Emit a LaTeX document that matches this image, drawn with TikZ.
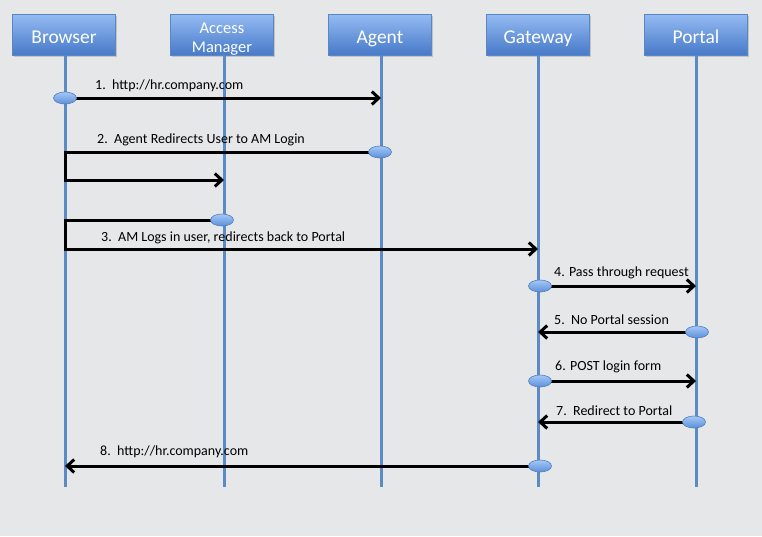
\documentclass[tikz,border=0pt]{standalone}
\usepackage{fontspec}
\setmainfont{Carlito}
\usetikzlibrary{arrows.meta,shadows,shapes.geometric}
\definecolor{bg}{HTML}{E6E7E9}
\definecolor{headtop}{HTML}{94BAF2}
\definecolor{headbot}{HTML}{4679C8}
\definecolor{headborder}{HTML}{5A86C4}
\definecolor{lifeline}{HTML}{5B8BC6}
\definecolor{dottop}{HTML}{A6C8F6}
\definecolor{dotbot}{HTML}{5B8FD8}
\definecolor{dotborder}{HTML}{4F7EC0}
\tikzset{
  headbase/.style={draw=headborder, line width=0.8pt, top color=headtop, bottom color=headbot,
    minimum width=103pt, minimum height=41pt, inner sep=0pt, text=white, align=center,
    font=\fontsize{19.5}{21}\selectfont,
    drop shadow={shadow xshift=1.2pt, shadow yshift=-1.5pt, opacity=0.35}},
  head/.style={headbase, text height=17pt, text depth=0pt},
  lline/.style={draw=lifeline, line width=3pt},
  dot/.style={ellipse, draw=dotborder, line width=0.6pt, top color=dottop, bottom color=dotbot,
    minimum width=23pt, minimum height=12pt, inner sep=0pt},
  msg/.style={draw=black, line width=3pt, line join=miter,
    -{Straight Barb[length=7pt,width=13pt,line width=3pt]}},
  lbl/.style={anchor=base west, inner sep=0pt, font=\fontsize{14}{16}\selectfont}
}
\begin{document}
\begin{tikzpicture}[x=1pt,y=-1pt]
\fill[bg] (0,0) rectangle (762,536);
\useasboundingbox (0,0) rectangle (762,536);

% heads
\node[head] (browser) at (64,35) {Browser};
\node[headbase, font=\fontsize{16.5}{19}\selectfont] (am) at (222,35) {\rule{0pt}{18.5pt}Access\\Manager};
\node[head] (agent) at (380,35) {Agent};
\node[head] (gateway) at (538,35) {Gateway};
\node[head] (portal) at (696,35) {Portal};

% lifeline ends
\coordinate (bEnd) at (65,487);
\coordinate (aEnd) at (224,487);
\coordinate (gEnd) at (381,487);
\coordinate (wEnd) at (538,487);
\coordinate (pEnd) at (696,487);

% bend coordinates
\coordinate (r2) at (65,180);
\coordinate (r3) at (65,249);

% lifelines
\draw[lline] (browser.south -| bEnd) -- (bEnd);
\draw[lline] (am.south -| aEnd) -- (aEnd);
\draw[lline] (agent.south -| gEnd) -- (gEnd);
\draw[lline] (gateway.south -| wEnd) -- (wEnd);
\draw[lline] (portal.south -| pEnd) -- (pEnd);

% labels
\node[lbl] (l1) at (95,89) {1.\ \ http://hr.company.com};
\node[lbl] (l2) at (97,143.5) {2.\ \ Agent Redirects User to AM Login};
\node[lbl] (l3) at (101,241) {3.\ \ AM Logs in user, redirects back to Portal};
\node[lbl] (l4) at (554,276) {4. Pass through request};
\node[lbl] (l5) at (554,324) {5.\ \ No Portal session};
\node[lbl] (l6) at (555,370.5) {6. POST login form};
\node[lbl] (l7) at (556,415) {7.\ \ Redirect to Portal};
\node[lbl] (l8) at (100,455) {8.\ \ http://hr.company.com};

% message anchor points
\coordinate (p1) at (65,98);
\coordinate (p2) at (380,152);
\coordinate (p3) at (222,220);
\coordinate (p4) at (540,286);
\coordinate (p5) at (697,332);
\coordinate (p6) at (540,381);
\coordinate (p7) at (694,422);
\coordinate (p8) at (540,466);

% messages
\draw[msg] (p1) -- (p1 -| gEnd);
\draw[msg] (p2) -- (p2 -| r2) -- (r2) -- (r2 -| aEnd);
\draw[msg] (p3) -- (p3 -| r3) -- (r3) -- (r3 -| wEnd);
\draw[msg] (p4) -- (p4 -| pEnd);
\draw[msg] (p5) -- (p5 -| wEnd);
\draw[msg] (p6) -- (p6 -| pEnd);
\draw[msg] (p7) -- (p7 -| wEnd);
\draw[msg] (p8) -- (p8 -| bEnd);

% dots
\node[dot] (d1) at (p1) {};
\node[dot] (d2) at (p2) {};
\node[dot] (d3) at (p3) {};
\node[dot] (d4) at (p4) {};
\node[dot] (d5) at (p5) {};
\node[dot] (d6) at (p6) {};
\node[dot] (d7) at (p7) {};
\node[dot] (d8) at (p8) {};
\end{tikzpicture}
\end{document}
